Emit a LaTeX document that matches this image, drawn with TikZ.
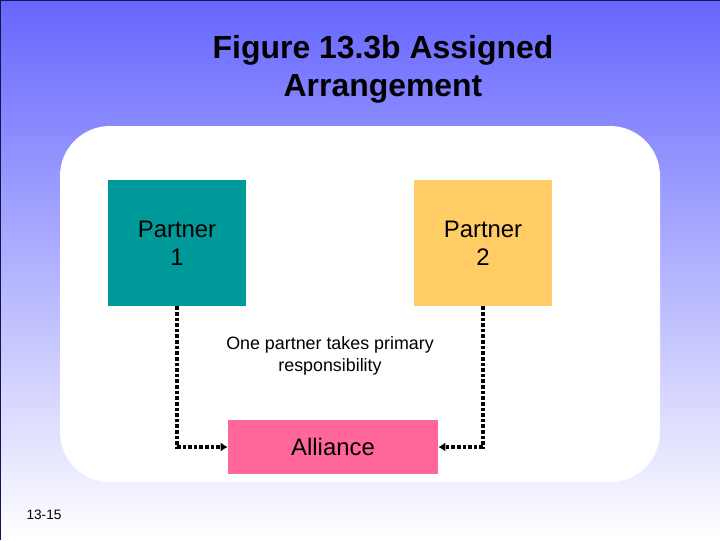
\documentclass[tikz,border=0pt]{standalone}
\usepackage{fontspec}
\setmainfont{Liberation Sans}
\usepackage{tikz}
\usetikzlibrary{arrows.meta}
\usetikzlibrary{calc}
\definecolor{slidetop}{RGB}{102,102,255}
\definecolor{slideedge}{RGB}{20,20,80}
\definecolor{tealbox}{RGB}{0,153,153}
\definecolor{goldbox}{RGB}{255,204,102}
\definecolor{pinkbox}{RGB}{255,102,153}
\tikzstyle{partner} = [inner sep=0mm,minimum width=3.45cm,minimum height=3.15cm,align=center,font=\fontsize{17}{20}\selectfont]
\tikzstyle{alliance} = [inner sep=0mm,minimum width=5.25cm,minimum height=1.35cm,fill=pinkbox,font=\fontsize{17}{20}\selectfont]
\tikzset{link/.style={line width=2.2pt,dash pattern=on 2.6pt off 1.4pt,-{Latex[length=5pt,width=6.5pt]}}}

\begin{document}
\begin{tikzpicture}[x=0.025cm,y=-0.025cm]
\useasboundingbox (0,0) rectangle (720,540);
\fill[top color=slidetop,bottom color=white] (0,0) rectangle (720,540);
\draw[slideedge,line width=1pt] (0,540) -- (0,0) -- (720,0);
\fill[white,rounded corners=1.25cm] (60,126) rectangle (660,482);

\draw(383,69) node[align=center,font=\fontsize{22.7}{27}\selectfont\bfseries] (title) {Figure 13.3b Assigned\\Arrangement};

\draw(177,243) node[partner,fill=tealbox] (p1) {Partner\\1};
\draw(483,243) node[partner,fill=goldbox] (p2) {Partner\\2};
\draw(333,447) node[alliance] (al) {Alliance};

\draw(330,356) node[align=center,font=\fontsize{12.7}{15.6}\selectfont] (note) {One partner takes primary\\responsibility};

\draw[link] (p1.south) |- (al.west);
\draw[link] (p2.south) |- (al.east);

\draw(44,515) node[font=\fontsize{9.7}{12}\selectfont] (page) {13-15};

\end{tikzpicture}
\end{document}
